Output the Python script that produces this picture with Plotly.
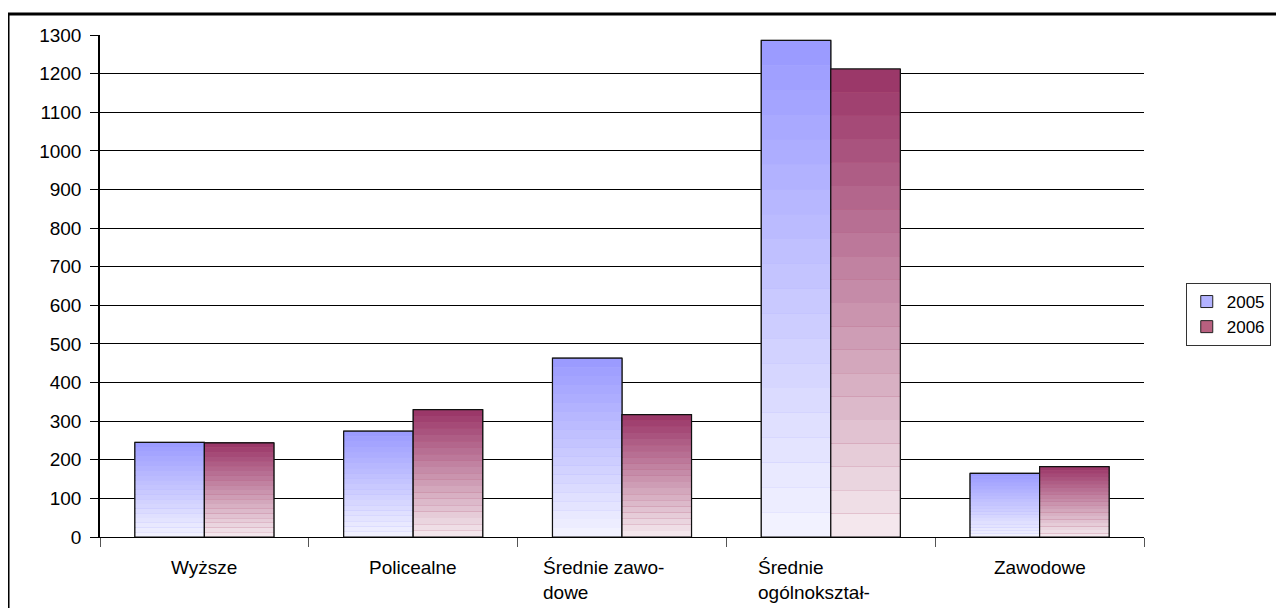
import plotly.graph_objects as go

categories = ["Wyższe", "Policealne", "Średnie zawodowe", "Średnie ogólnokształcące", "Zawodowe"]
label_text = ["Wyższe", "Policealne", "Średnie zawo-<br>dowe", "Średnie<br>ogólnokształ-", "Zawodowe"]
label_shift = [0, 0, -19, -17, 0]
series_names = ["2005", "2006"]
values_2005 = [245, 274, 463, 1286, 165]
values_2006 = [244, 330, 317, 1212, 182]
series_values = [values_2005, values_2006]
top_colors = [(153, 153, 255), (153, 51, 102)]
bottom_colors = [(244, 244, 255), (246, 236, 240)]
mid_colors = ["#b3b3ff", "#b8607f"]
y_ticks = list(range(0, 1301, 100))

N_BANDS = 20
FONT = "Liberation Sans, Arial, sans-serif"

def mix(c1, c2, t):
    return "rgb(%d,%d,%d)" % tuple(round(a + (b - a) * t) for a, b in zip(c1, c2))

fig = go.Figure()
for s, name in enumerate(series_names):
    vals = series_values[s]
    # legend carrier (hidden underneath the bands)
    fig.add_trace(go.Bar(
        x=categories, y=vals, name=name, offsetgroup=name,
        marker=dict(color=mid_colors[s], line=dict(color="#222", width=1)),
        hoverinfo="skip", showlegend=True))
    for k in range(N_BANDS):
        t = (k + 0.5) / N_BANDS  # 0 bottom -> 1 top
        fig.add_trace(go.Bar(
            x=categories,
            y=[v / N_BANDS for v in vals],
            base=[v * k / N_BANDS for v in vals],
            offsetgroup=name,
            marker=dict(color=mix(bottom_colors[s], top_colors[s], t), line=dict(width=0)),
            showlegend=False, hoverinfo="skip"))
    fig.add_trace(go.Bar(
        x=categories, y=vals, offsetgroup=name,
        marker=dict(color="rgba(0,0,0,0)", line=dict(color="#111", width=1.2)),
        showlegend=False, name=name))

for c, txt, sh in zip(categories, label_text, label_shift):
    fig.add_annotation(x=c, y=0, xref="x", yref="y", text=txt, showarrow=False,
                       yanchor="top", yshift=-18, xshift=sh, align="left",
                       font=dict(family=FONT, size=19, color="#000"))

# outer chart border
fig.add_shape(type="rect", xref="paper", yref="paper",
              x0=-0.0881, x1=1.2, y0=-0.3, y1=1.0418,
              line=dict(color="#000", width=3), fillcolor="rgba(0,0,0,0)")

fig.update_layout(
    width=1276, height=600,
    margin=dict(l=92, r=140, t=27, b=71, autoexpand=False),
    paper_bgcolor="white", plot_bgcolor="white",
    barmode="group", bargap=0.334, bargroupgap=0,
    font=dict(family=FONT, size=19, color="#000"),
    showlegend=True,
    legend=dict(x=1.040, y=0.506, xanchor="left", yanchor="top",
                bordercolor="#333", borderwidth=1, bgcolor="white",
                font=dict(size=17), tracegroupgap=0, itemwidth=30),
    xaxis=dict(type="category", showticklabels=False, showline=True, linecolor="#000", linewidth=1,
               ticks="outside", tickson="boundaries", ticklen=9, tickcolor="#555",
               showgrid=False, automargin=False),
    yaxis=dict(range=[0, 1300], tickvals=y_ticks, showline=True, linecolor="#000", linewidth=1.5,
               ticks="outside", ticklen=8, tickcolor="#000", showgrid=True, gridcolor="#000",
               gridwidth=1, zeroline=False, ticklabelstandoff=5, automargin=False,
               tickfont=dict(size=19)),
)

fig.write_html("out.html")
